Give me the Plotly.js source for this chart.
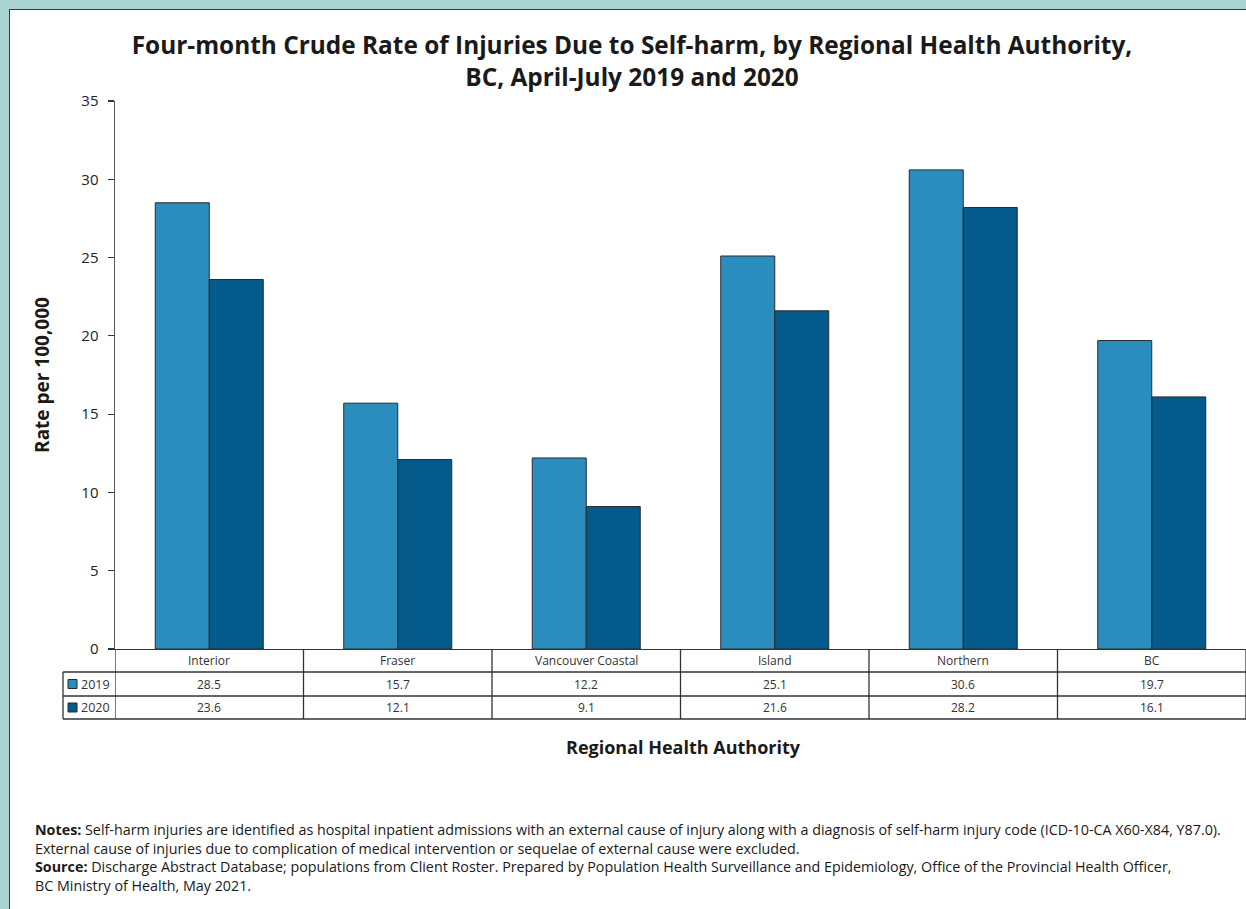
<!DOCTYPE html>
<html>
<head>
<meta charset="utf-8">
<script src="https://cdn.plot.ly/plotly-3.0.1.min.js"></script>
<style>
  html, body { margin: 0; padding: 0; width: 1246px; height: 909px; overflow: hidden; background: #aad4d2; }
  #panel { position: absolute; left: 9px; top: 9px; width: 1300px; height: 1000px; background: #ffffff;
           border-left: 1.5px solid #3a3a3a; border-top: 1.5px solid #3a3a3a; }
  #chart { position: absolute; left: 0; top: 0; width: 1246px; height: 909px; }
</style>
</head>
<body>
<div id="panel"></div>
<div id="chart"></div>
<script>
// Crude rate per 100,000, April-July
const regions = ['Interior', 'Fraser', 'Vancouver Coastal', 'Island', 'Northern', 'BC'];
const rate2019 = [28.5, 15.7, 12.2, 25.1, 30.6, 19.7];
const rate2020 = [23.6, 12.1, 9.1, 21.6, 28.2, 16.1];
const seriesNames = ['2019', '2020'];
const yTicks = [0, 5, 10, 15, 20, 25, 30, 35];

const colors = ['#2b8cbe', '#055a8c'];
const edge = '#2a2a2a';
const FONT = '"Open Sans", "Noto Sans", sans-serif';

// plot area geometry (pixels) used to place the table below the axis
const W = 1246, H = 909;
const mL = 115, mR = 0, mT = 101, mB = 260;
const plotW = W - mL - mR, plotH = H - mT - mB;
const py = p => (H - mB - p) / plotH;      // pixel row -> paper y
const px = p => (p - mL) / plotW;          // pixel column -> paper x

const traces = [rate2019, rate2020].map((vals, i) => ({
  type: 'bar',
  name: seriesNames[i],
  x: regions,
  y: vals,
  marker: { color: colors[i], line: { color: edge, width: 1 } },
  hoverinfo: 'x+y+name'
}));

// data table under the axis
const rowTop = [649, 672, 696];
const rowBot = [672, 696, 719];
const rowMid = rowTop.map((t, i) => (t + rowBot[i]) / 2);
const lineStyle = { color: '#333333', width: 1.3 };
const shapes = [];
const annotations = [];
const cellFont = { family: FONT, size: 12, color: '#333' };

// horizontal rules
[672, 696, 719].forEach(r => {
  shapes.push({ type: 'line', xref: 'paper', yref: 'paper', x0: px(63), x1: 1, y0: py(r), y1: py(r), line: lineStyle });
});
// vertical rules at category boundaries
for (let k = 0; k <= regions.length; k++) {
  shapes.push({ type: 'line', xref: 'x', yref: 'paper', x0: k - 0.5, x1: k - 0.5, y0: py(649), y1: py(719), line: lineStyle });
}
shapes.push({ type: 'line', xref: 'paper', yref: 'paper', x0: px(63), x1: px(63), y0: py(672), y1: py(719), line: lineStyle });

// category labels
regions.forEach(r => {
  annotations.push({ xref: 'x', yref: 'paper', x: r, y: py(rowMid[0]), text: r, showarrow: false,
    xanchor: 'center', yanchor: 'middle', font: cellFont });
});
// values and legend keys per series
[rate2019, rate2020].forEach((vals, s) => {
  const yMid = py(rowMid[s + 1]);
  vals.forEach((v, i) => {
    annotations.push({ xref: 'x', yref: 'paper', x: regions[i], y: yMid, text: v.toFixed(1), showarrow: false,
      xanchor: 'center', yanchor: 'middle', font: cellFont });
  });
  const c = rowMid[s + 1];
  shapes.push({ type: 'rect', xref: 'paper', yref: 'paper', x0: px(68), x1: px(77), y0: py(c - 4.5), y1: py(c + 4.5),
    fillcolor: colors[s], line: { color: edge, width: 1 } });
  annotations.push({ xref: 'paper', yref: 'paper', x: px(79), y: yMid, text: seriesNames[s], showarrow: false,
    xanchor: 'left', yanchor: 'middle', font: { family: FONT, size: 12.5, color: '#333' } });
});

// x-axis title, placed under the table
annotations.push({ xref: 'paper', yref: 'paper', x: px(683), y: py(747), text: '<b>Regional Health Authority</b>',
  showarrow: false, xanchor: 'center', yanchor: 'middle', font: { family: FONT, size: 18, color: '#1a1a1a' } });

// notes and source
const notes = [
  '<b>Notes:</b> Self-harm injuries are identified as hospital inpatient admissions with an external cause of injury along with a diagnosis of self-harm injury code (ICD-10-CA X60-X84, Y87.0).',
  'External cause of injuries due to complication of medical intervention or sequelae of external cause were excluded.',
  '<b>Source:</b> Discharge Abstract Database; populations from Client Roster. Prepared by Population Health Surveillance and Epidemiology, Office of the Provincial Health Officer,',
  'BC Ministry of Health, May 2021.'
];
const noteY = [829, 848, 866, 885];
notes.forEach((t, i) => {
  annotations.push({ xref: 'paper', yref: 'paper', x: px(33), y: py(noteY[i]), text: t, showarrow: false,
    xanchor: 'left', yanchor: 'middle', align: 'left', font: { family: FONT, size: 14.3, color: '#1a1a1a' } });
});

const layout = {
  width: W, height: H,
  margin: { l: mL, r: mR, t: mT, b: mB, pad: 0 },
  paper_bgcolor: 'rgba(0,0,0,0)',
  plot_bgcolor: 'rgba(0,0,0,0)',
  showlegend: false,
  barmode: 'group',
  bargap: 0.427,
  bargroupgap: 0,
  title: {
    text: 'Four-month Crude Rate of Injuries Due to Self-harm, by Regional Health Authority,<br>BC, April-July 2019 and 2020',
    font: { family: FONT, size: 24.4, color: '#1a1a1a', weight: 'bold' },
    xref: 'container', yref: 'container', x: 632 / W, xanchor: 'center',
    y: 1 - 54 / H, yanchor: 'middle'
  },
  xaxis: {
    type: 'category', range: [-0.5, 5.5], showticklabels: false, ticks: '',
    showline: true, linecolor: '#333333', linewidth: 1.3, showgrid: false, zeroline: false, fixedrange: true
  },
  yaxis: {
    range: [0, 35], tickvals: yTicks, ticktext: yTicks.map(String), ticks: 'outside', ticklen: 6,
    tickcolor: '#333333', tickwidth: 1.2, showline: true, linecolor: '#555555', linewidth: 1.5,
    showgrid: false, zeroline: false, fixedrange: true, ticklabelstandoff: 6,
    tickfont: { family: FONT, size: 15, color: '#222' },
    title: { text: '<b>Rate per 100,000</b>', font: { family: FONT, size: 19, color: '#1a1a1a' }, standoff: 26 }
  },
  shapes: shapes,
  annotations: annotations
};

Plotly.newPlot('chart', traces, layout, { displayModeBar: false, staticPlot: true });
</script>
</body>
</html>
